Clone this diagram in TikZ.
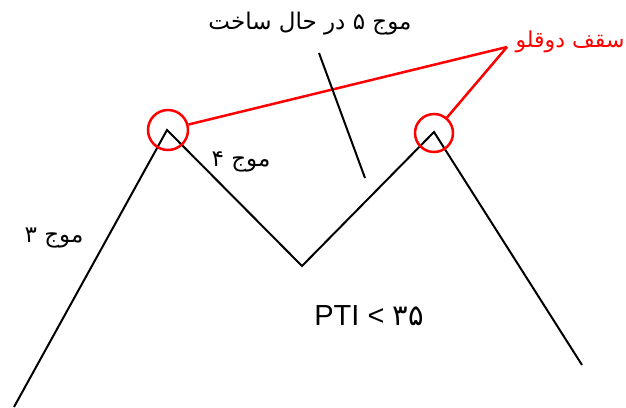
\documentclass[tikz,border=0pt]{standalone}
\usepackage{fontspec}
\setmainfont{Liberation Sans}
\newfontfamily\arabicfont[Script=Arabic]{DejaVu Sans}
\TeXXeTstate=1
\usetikzlibrary{positioning,calc}
\definecolor{ink}{RGB}{0,0,0}
\definecolor{mark}{RGB}{255,0,0}

\begin{document}
\begin{tikzpicture}[
    x=1pt,y=-1pt,
    text=ink,
    every node/.style={font=\fontsize{22}{26}\selectfont},
    wave/.style={draw=ink, line width=2pt},
    ring/.style={circle, draw=mark, line width=2.5pt, minimum size=40pt, inner sep=0pt},
    redline/.style={draw=mark, line width=2.5pt},
    lbl/.style={font=\fontsize{23}{26}\selectfont\arabicfont, text=ink},
    redlbl/.style={font=\fontsize{22}{26}\selectfont\arabicfont, text=mark}
]
\useasboundingbox (0,0) rectangle (626,407);

% Wave points
\coordinate (start) at (14,407);
\coordinate (top1) at (167,130);
\coordinate (low) at (302,266);
\coordinate (top2) at (434,132);
\coordinate (end) at (582,365);

% Wave
\draw[wave] (start) -- (top1) -- (low) -- (top2) -- (end);

% Double top circles
\node[ring] (ring1) at (168,130) {};
\node[ring, minimum size=38pt] (ring2) at (434,133) {};

% Double top label
\node[redlbl, anchor=west] (roof) at (512,42) {\beginR سقف دوقلو\endR};
\coordinate (meet) at (507,47);
\draw[redline] (ring1.15) -- (meet);
\draw[redline] (ring2.50) -- (meet);

% Wave 5 label with pointer
\node[lbl] (w5) at (310,24) {\beginR موج ۵ در حال ساخت\endR};
\coordinate (w5a) at (319,53);
\coordinate (w5b) at (365,178);
\draw[wave] (w5a) -- (w5b);

% Wave 4 and wave 3 labels
\node[lbl] (w4) at (241,162) {\beginR موج ۴\endR};
\node[lbl] (w3) at (54,238) {\beginR موج ۳\endR};

% PTI
\node[font=\fontsize{29}{32}\selectfont] (pti) at (369,316) {PTI < {\arabicfont ۳۵}};

\end{tikzpicture}
\end{document}
